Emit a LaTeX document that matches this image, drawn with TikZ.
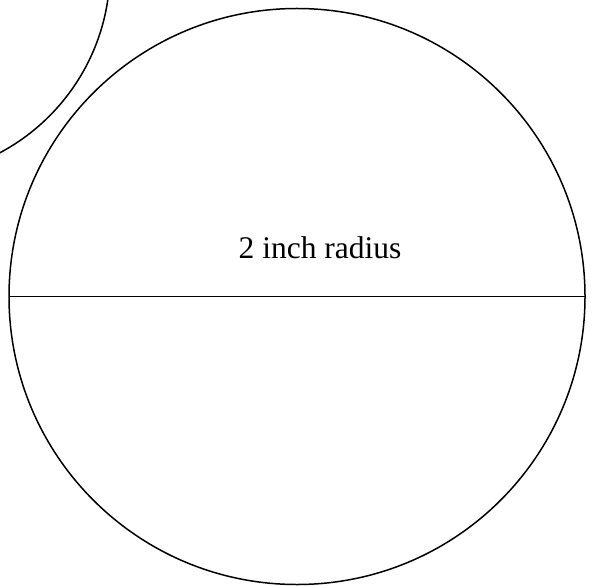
\documentclass[tikz,border=0pt]{standalone}
\usepackage{fontspec}
\setmainfont{Liberation Serif}
\tikzset{
  ring/.style={circle, draw=black, line width=1.5pt, inner sep=0pt, outer sep=0pt},
  lbl/.style={font=\fontsize{31.5}{36}\selectfont, inner sep=0pt, anchor=base}
}
\begin{document}
\begin{tikzpicture}[x=1pt, y=-1pt]
\useasboundingbox (0,0) rectangle (593,585);
\clip (0,0) rectangle (593,585);
\node[ring, minimum size=576pt] (big) at (297,296.5) {};
\node[ring, minimum size=415pt] (small) at (-97.5,-30.5) {};
\draw[line width=1.5pt] (big.west) -- (big.east);
\node[lbl] (txt) at (320,258) {2 inch radius};
\end{tikzpicture}
\end{document}
